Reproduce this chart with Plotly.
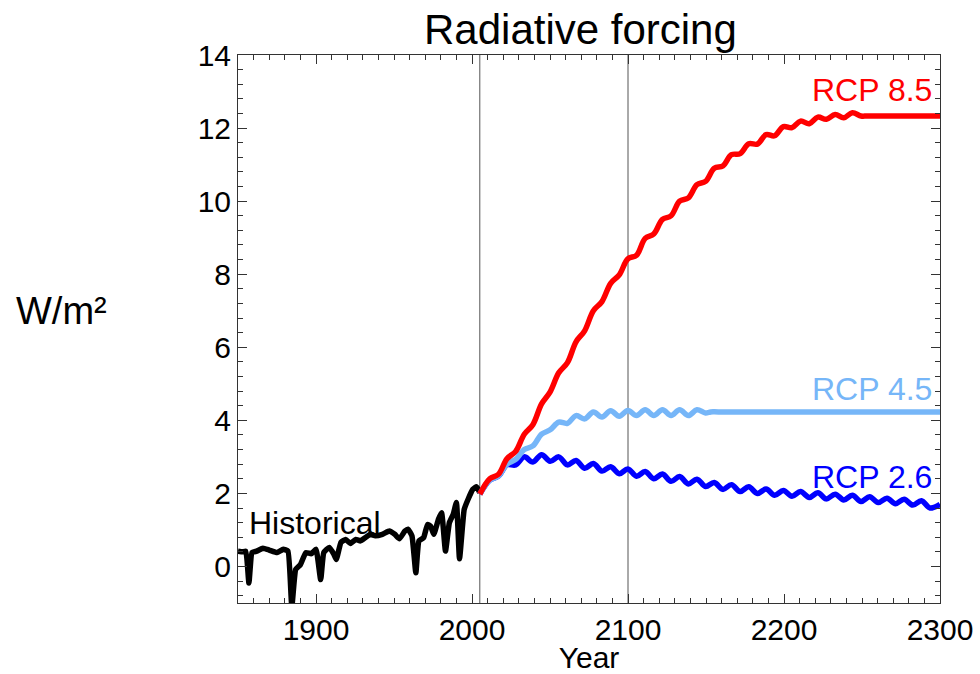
import plotly.graph_objects as go

# ---------------- data ----------------
hist_years = [1850, 1853, 1855, 1857, 1859, 1862, 1866, 1870, 1875, 1879, 1882, 1884.5,
              1887, 1890, 1893.5, 1897, 1900, 1903, 1905, 1908.5, 1911.5, 1913, 1916,
              1919, 1922, 1925.5, 1928.5, 1932, 1935, 1938, 1942.5, 1947, 1950.5, 1953.5,
              1957, 1959, 1961.5, 1964, 1966, 1969, 1971.5, 1973.5, 1975.5, 1978.5,
              1980.5, 1983, 1985.5, 1988, 1990, 1992, 1995, 1997.5, 2000.5, 2003, 2005]
hist_vals = [0.42, 0.40, 0.42, -0.45, 0.38, 0.42, 0.50, 0.45, 0.38, 0.47, 0.42, -1.10,
             -0.08, 0.05, 0.38, 0.35, 0.47, -0.36, 0.38, 0.52, 0.33, 0.19, 0.66,
             0.74, 0.63, 0.74, 0.70, 0.80, 0.88, 0.84, 0.88, 0.97, 0.88, 0.76,
             0.97, 1.02, 0.84, -0.17, 0.70, 0.79, 1.15, 1.10, 0.88, 1.29,
             1.47, 0.42, 1.20, 1.43, 1.75, 0.21, 1.56, 1.84, 2.11, 2.18, 2.02]

rcp85_years = [2005, 2011.4, 2016.9, 2022.4, 2028.0, 2033.5, 2039.0, 2044.6, 2050.1, 2055.6,
               2061.2, 2066.7, 2072.2, 2077.8, 2083.3, 2088.9, 2094.4, 2099.9, 2105.5, 2111.0,
               2116.5, 2122.1, 2127.6, 2133.1, 2138.7, 2144.2, 2149.7, 2155.3, 2160.8, 2166.3,
               2171.9, 2177.4, 2182.9, 2188.5, 2194.0, 2199.6, 2205.1, 2210.6, 2216.2, 2221.7,
               2227.2, 2232.8, 2238.3, 2243.8, 2249.4, 2253, 2258, 2300]
rcp85_vals = [1.98, 2.40, 2.52, 2.95, 3.15, 3.62, 3.88, 4.45, 4.78, 5.30,
              5.58, 6.15, 6.45, 7.00, 7.25, 7.75, 7.98, 8.42, 8.52, 8.98,
              9.10, 9.50, 9.60, 10.00, 10.09, 10.45, 10.54, 10.90, 10.96, 11.27,
              11.30, 11.57, 11.56, 11.82, 11.79, 12.04, 12.01, 12.19, 12.12, 12.30,
              12.24, 12.37, 12.28, 12.42, 12.33, 12.33, 12.33, 12.33]

rcp45_years = [2005, 2011.4, 2016.9, 2022.4, 2028.0, 2033.5, 2039.0, 2044.6, 2050.1, 2055.6,
               2061.2, 2066.7, 2072.2, 2077.8, 2083.3, 2088.9, 2094.4, 2099.9, 2105.5, 2111.0,
               2116.5, 2122.1, 2127.6, 2133.1, 2138.7, 2144.2, 2149.7, 2153, 2158, 2300]
rcp45_vals = [1.98, 2.36, 2.47, 2.80, 2.93, 3.20, 3.30, 3.62, 3.74, 3.95,
              3.92, 4.13, 4.04, 4.23, 4.09, 4.26, 4.11, 4.27, 4.13, 4.29,
              4.13, 4.29, 4.13, 4.29, 4.13, 4.29, 4.20, 4.23, 4.23, 4.23]

rcp26_years = [2005, 2011.4, 2016.9, 2022.4, 2028.0, 2033.5, 2039.0, 2044.6, 2050.1, 2055.6,
               2061.2, 2066.7, 2072.2, 2077.8, 2083.3, 2088.9, 2094.4, 2099.9, 2105.5, 2111.0,
               2116.5, 2122.1, 2127.6, 2133.1, 2138.7, 2144.2, 2149.7, 2155.3, 2160.8, 2166.3,
               2171.9, 2177.4, 2182.9, 2188.5, 2194.0, 2199.6, 2205.1, 2210.6, 2216.2, 2221.7,
               2227.2, 2232.8, 2238.3, 2243.8, 2249.4, 2254.9, 2260.4, 2266.0, 2271.5, 2277.0,
               2282.6, 2288.1, 2293.6, 2300]
rcp26_vals = [1.98, 2.36, 2.47, 2.78, 2.78, 3.00, 2.86, 3.06, 2.88, 3.00,
              2.78, 2.90, 2.69, 2.82, 2.61, 2.73, 2.54, 2.67, 2.47, 2.60,
              2.40, 2.53, 2.33, 2.46, 2.26, 2.39, 2.19, 2.30, 2.11, 2.24,
              2.05, 2.18, 2.00, 2.12, 1.95, 2.08, 1.92, 2.05, 1.89, 2.02,
              1.85, 1.98, 1.82, 1.95, 1.78, 1.91, 1.75, 1.87, 1.72, 1.84,
              1.68, 1.80, 1.60, 1.70]

marker_years = [2005, 2100]

# ---------------- styling ----------------
FONT = "Liberation Sans, Arial, Helvetica, sans-serif"
RED = "#ff0000"
LIGHTBLUE = "#76b6f8"
BLUE = "#0000ff"

fig = go.Figure()

fig.add_trace(go.Scatter(x=hist_years, y=hist_vals, mode="lines",
                         line=dict(color="black", width=5.5, shape="spline", smoothing=0.4),
                         showlegend=False))
fig.add_trace(go.Scatter(x=rcp26_years, y=rcp26_vals, mode="lines",
                         line=dict(color=BLUE, width=5.5, shape="spline", smoothing=1.0),
                         showlegend=False))
fig.add_trace(go.Scatter(x=rcp45_years, y=rcp45_vals, mode="lines",
                         line=dict(color=LIGHTBLUE, width=5.5, shape="spline", smoothing=1.0),
                         showlegend=False))
fig.add_trace(go.Scatter(x=rcp85_years, y=rcp85_vals, mode="lines",
                         line=dict(color=RED, width=5.5, shape="spline", smoothing=1.0),
                         showlegend=False))

for yr in marker_years:
    fig.add_shape(type="line", x0=yr, x1=yr, xref="x", y0=0, y1=1, yref="paper",
                  line=dict(color="#555555", width=1), layer="below")

ann = [
    dict(text="Historical", x=1856, y=1.2, xanchor="left", yanchor="middle",
         font=dict(color="black", size=32)),
    dict(text="RCP 8.5", x=2296, y=13.05, xanchor="right", yanchor="middle",
         font=dict(color=RED, size=32)),
    dict(text="RCP 4.5", x=2296, y=4.85, xanchor="right", yanchor="middle",
         font=dict(color=LIGHTBLUE, size=32)),
    dict(text="RCP 2.6", x=2296, y=2.45, xanchor="right", yanchor="middle",
         font=dict(color=BLUE, size=32)),
]
for a in ann:
    fig.add_annotation(xref="x", yref="y", showarrow=False, **a)

fig.add_annotation(text="W/m²", xref="paper", yref="y", x=-0.251, y=7.0,
                   xanchor="center", yanchor="middle", showarrow=False,
                   font=dict(color="black", size=38))
fig.add_annotation(text="Radiative forcing", xref="paper", yref="paper", x=0.488, y=1.0,
                   xanchor="center", yanchor="bottom", yshift=0, showarrow=False,
                   font=dict(color="black", size=42))

axis_common = dict(showgrid=False, zeroline=False, showline=True, linecolor="#333333",
                   linewidth=1, mirror="ticks", ticks="inside", ticklen=9, tickwidth=1,
                   tickcolor="#333333", automargin=False,
                   tickfont=dict(size=30, color="black", family=FONT))

fig.update_xaxes(range=[1850, 2300], tick0=1900, dtick=100,
                 minor=dict(dtick=10, tick0=1850, ticks="inside", ticklen=5,
                            tickcolor="#333333", showgrid=False),
                 title=dict(text="Year", font=dict(size=30, color="black", family=FONT),
                            standoff=0),
                 **axis_common)
fig.update_yaxes(range=[-1, 14], tick0=0, dtick=2,
                 minor=dict(dtick=0.4, tick0=0, ticks="inside", ticklen=5,
                            tickcolor="#333333", showgrid=False),
                 **axis_common)

fig.update_layout(width=980, height=674, autosize=False,
                  margin=dict(l=238, r=40, t=55, b=71, pad=0),
                  plot_bgcolor="white", paper_bgcolor="white",
                  font=dict(family=FONT, color="black"),
                  showlegend=False)

fig.write_html("out.html")
